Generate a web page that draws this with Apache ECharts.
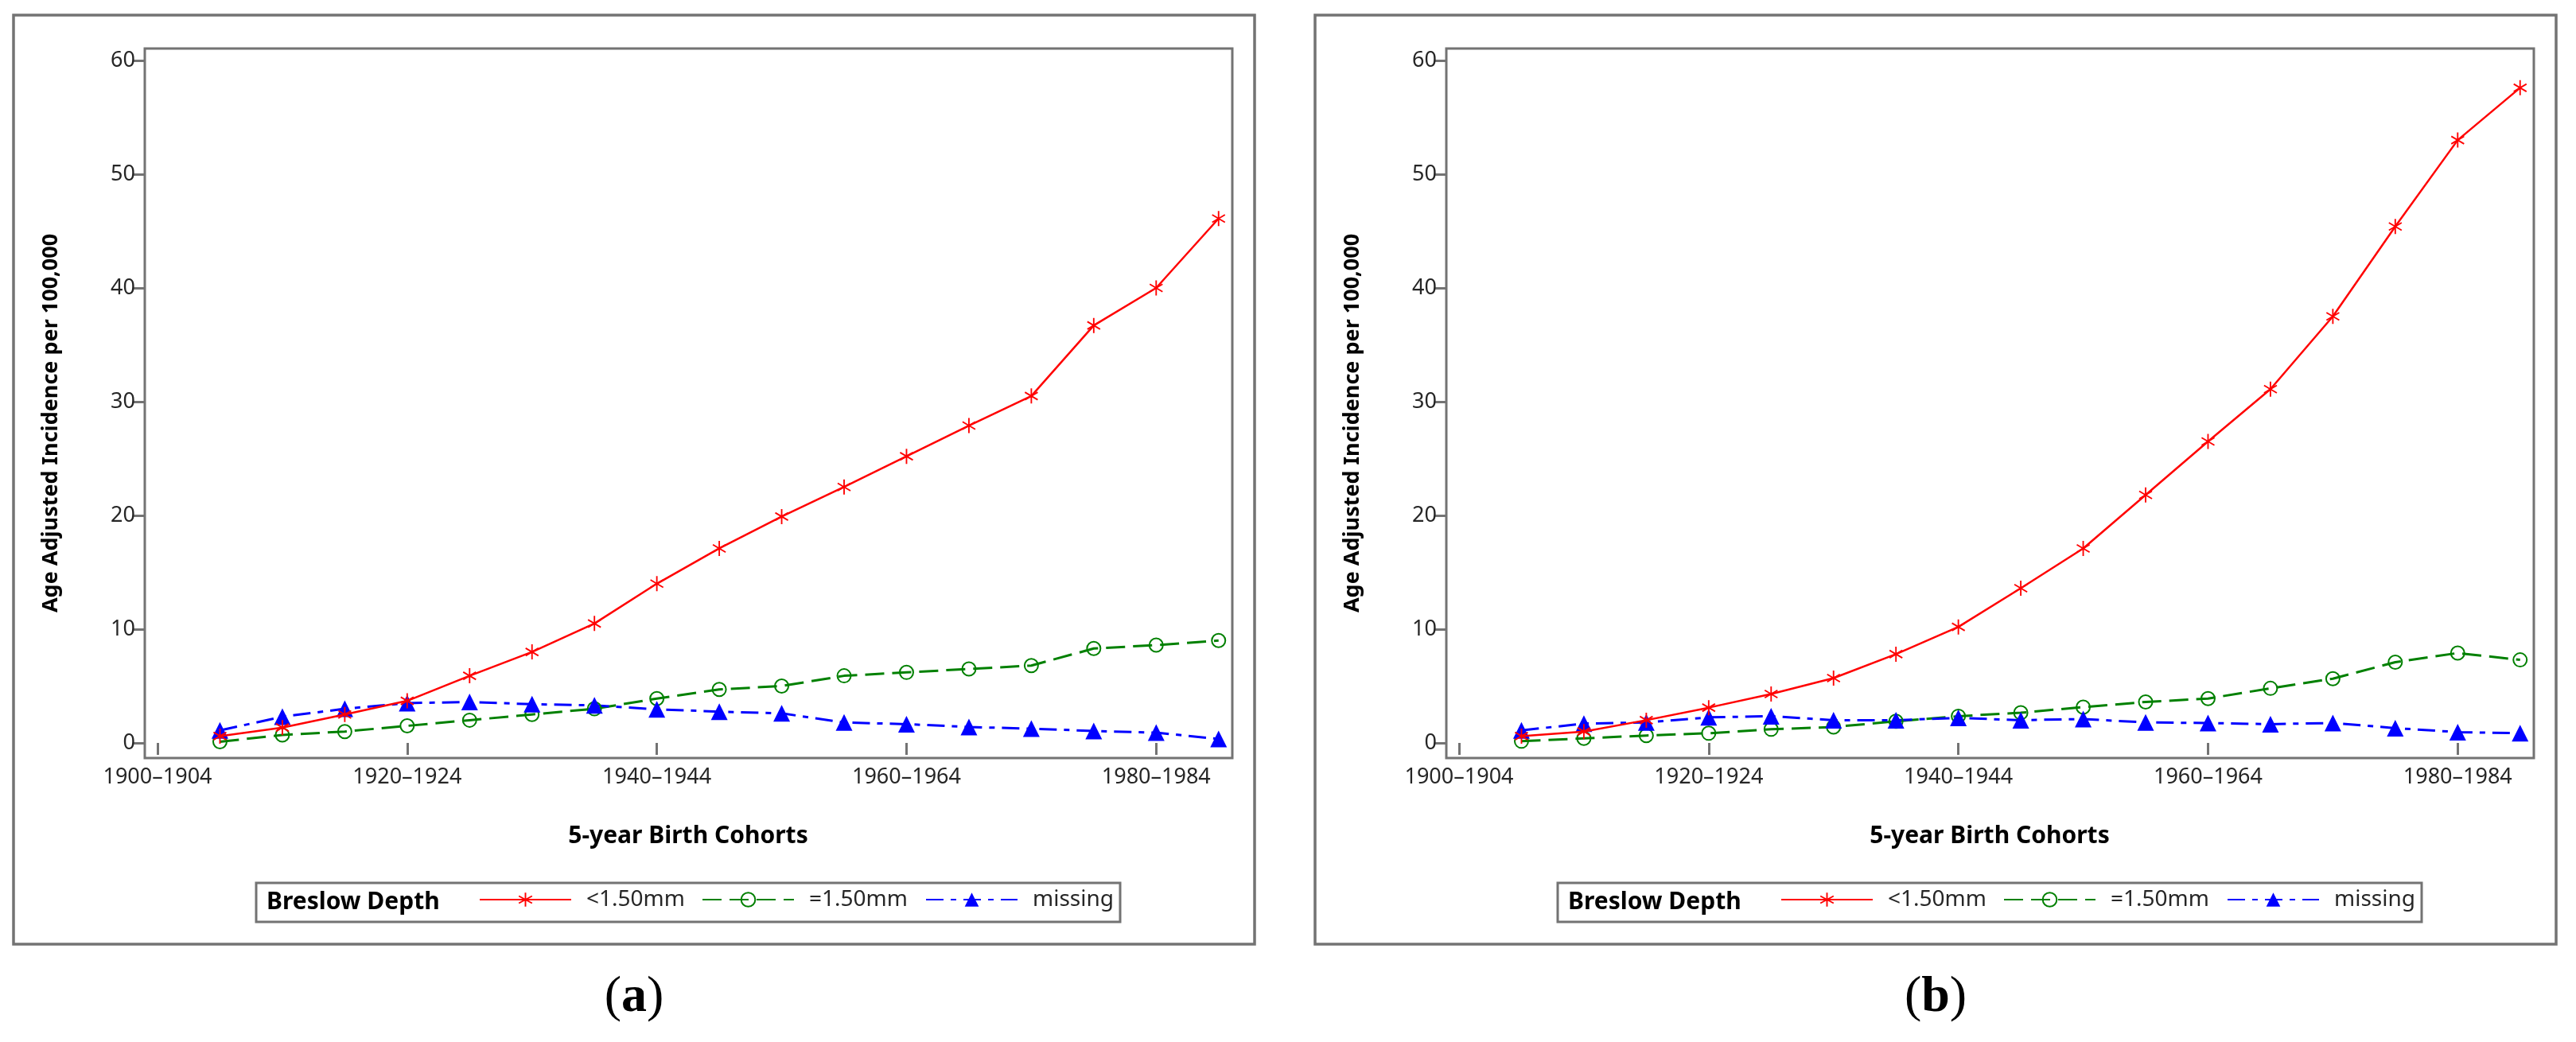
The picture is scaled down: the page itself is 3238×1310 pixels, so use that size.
<!DOCTYPE html>
<html>
<head>
<meta charset="utf-8">
<script src="https://cdn.jsdelivr.net/npm/echarts@6/dist/echarts.min.js"></script>
<style>
html,body{margin:0;padding:0;background:#fff;}
#chart{width:3238px;height:1310px;}
</style>
</head>
<body>
<div id="chart"></div>
<script>
// ---- data ----
const cohorts = ['1905–1909','1910–1914','1915–1919','1920–1924','1925–1929','1930–1934','1935–1939','1940–1944','1945–1949','1950–1954','1955–1959','1960–1964','1965–1969','1970–1974','1975–1979','1980–1984','1985–1989'];
const tickLabels = ['1900–1904','1920–1924','1940–1944','1960–1964','1980–1984'];
const yTicks = [0,10,20,30,40,50,60];
const seriesNames = ['<1.50mm','=1.50mm','missing'];
const panelLabels = ['a','b'];
const legendTitle = 'Breslow Depth';
const xTitle = '5-year Birth Cohorts';
const yTitle = 'Age Adjusted Incidence per 100,000';

const thinA    = [0.6,1.35,2.5,3.7,5.9,8.0,10.5,14.0,17.1,19.9,22.5,25.2,27.9,30.5,36.7,40.0,46.1];
const thickA   = [0.1,0.7,1.0,1.5,2.0,2.5,3.0,3.9,4.7,5.0,5.9,6.2,6.5,6.8,8.3,8.6,9.0];
const missingA = [1.1,2.3,3.0,3.5,3.6,3.4,3.3,2.95,2.75,2.6,1.8,1.65,1.4,1.25,1.05,0.9,0.35];

const thinB    = [0.6,1.0,2.0,3.1,4.3,5.7,7.8,10.2,13.6,17.1,21.8,26.5,31.1,37.5,45.4,53.0,57.6];
const thickB   = [0.15,0.4,0.65,0.85,1.2,1.4,1.9,2.35,2.65,3.15,3.6,3.9,4.8,5.65,7.1,7.9,7.3];
const missingB = [1.1,1.7,1.8,2.25,2.35,2.0,2.0,2.2,2.0,2.1,1.8,1.75,1.65,1.75,1.3,0.95,0.85];

const panelData = [[thinA, thickA, missingA],[thinB, thickB, missingB]];

// ---- derived ----
const cohortStart = cohorts.map(c => parseInt(c, 10));
const tickStart = tickLabels.map(t => parseInt(t, 10));

// ---- styles ----
const RED = '#ff0000', GREEN = '#008000', BLUE = '#0000ff';
const GRAY = '#737373';
const FONT = "'Noto Sans', 'Open Sans', sans-serif";
const asterisk = 'path://M-1,-10L1,-10L1,10L-1,10Z M-9.16,-4.134L-8.16,-5.866L9.16,4.134L8.16,5.866Z M8.16,-5.866L9.16,-4.134L-8.16,5.866L-9.16,4.134Z';
const legendLeft = [602, 882, 1163];

const DX = 1636;
const grids = [], xAxes = [], yAxes = [], series = [], legends = [], graphics = [];

for (let p = 0; p < 2; p++) {
  const ox = p * DX;
  grids.push({left: 182 + ox, top: 61, width: 1367, height: 892, show: true,
    borderColor: GRAY, borderWidth: 3, backgroundColor: '#fff', containLabel: false});
  xAxes.push({type: 'value', gridIndex: p, min: 1898.98, max: 1986.1,
    axisLine: {show: false}, splitLine: {show: false},
    axisTick: {show: true, length: 15, customValues: tickStart, lineStyle: {color: GRAY, width: 3}},
    axisLabel: {customValues: tickStart, margin: 11, fontSize: 27, fontFamily: FONT, color: '#262626',
      formatter: v => tickLabels[tickStart.indexOf(v)] || ''}});
  yAxes.push({type: 'value', gridIndex: p, min: -1.33, max: 61.05,
    axisLine: {show: false}, splitLine: {show: false},
    axisTick: {show: true, length: 15, customValues: yTicks, lineStyle: {color: GRAY, width: 3}},
    axisLabel: {customValues: yTicks, margin: 12, fontSize: 27, fontFamily: FONT, color: '#262626'}});

  const d = panelData[p];
  series.push({name: seriesNames[0], type: 'line', xAxisIndex: p, yAxisIndex: p,
    data: cohortStart.map((x, i) => [x, d[0][i]]),
    symbol: asterisk, symbolSize: [17, 19],
    itemStyle: {color: RED}, lineStyle: {color: RED, width: 2.5, type: 'solid'}, z: 3});
  series.push({name: seriesNames[1], type: 'line', xAxisIndex: p, yAxisIndex: p,
    data: cohortStart.map((x, i) => [x, d[1][i]]),
    symbol: 'circle', symbolSize: 17,
    itemStyle: {color: 'rgba(255,255,255,0)', borderColor: GREEN, borderWidth: 2},
    lineStyle: {color: GREEN, width: 3, type: [24, 10]}, z: 2});
  series.push({name: seriesNames[2], type: 'line', xAxisIndex: p, yAxisIndex: p,
    data: cohortStart.map((x, i) => [x, d[2][i]]),
    symbol: 'triangle', symbolSize: 21,
    itemStyle: {color: BLUE}, lineStyle: {color: BLUE, width: 3, type: [22, 9, 7, 9]}, z: 2});

  for (let k = 0; k < 3; k++) {
    legends.push({data: [seriesNames[k]], left: legendLeft[k] + ox, top: 1117, padding: 0,
      itemWidth: 115, itemHeight: 22, selectedMode: false,
      formatter: n => '\u2002' + n,
      textStyle: {fontSize: 28, fontFamily: FONT, color: '#262626'}});
  }

  // outer frame
  graphics.push({type: 'rect', shape: {x: 17 + ox, y: 19, width: 1560, height: 1168},
    style: {fill: null, stroke: GRAY, lineWidth: 3.5}, z: -1});
  // legend box
  graphics.push({type: 'rect', shape: {x: 322 + ox, y: 1110, width: 1086, height: 49},
    style: {fill: null, stroke: GRAY, lineWidth: 3}});
  graphics.push({type: 'text', x: 335 + ox, y: 1134,
    style: {text: legendTitle, font: "bold 30px 'Noto Sans', sans-serif", fill: '#000', textVerticalAlign: 'middle', textAlign: 'left'}});
  // axis titles
  graphics.push({type: 'text', x: 865 + ox, y: 1051,
    style: {text: xTitle, font: "bold 30px 'Noto Sans', sans-serif", fill: '#000', textVerticalAlign: 'middle', textAlign: 'center'}});
  graphics.push({type: 'text', x: 64 + ox, y: 532, rotation: Math.PI / 2,
    style: {text: yTitle, font: "bold 27px 'Noto Sans', sans-serif", fill: '#000', textVerticalAlign: 'middle', textAlign: 'center'}});
  // panel label
  graphics.push({type: 'text', x: 797 + ox, y: 1254,
    style: {text: '{n|(}{b|' + panelLabels[p] + '}{n|)}', textAlign: 'center', textVerticalAlign: 'middle',
      rich: {n: {font: "64px 'Liberation Serif', serif", fill: '#000'}, b: {font: "bold 64px 'Liberation Serif', serif", fill: '#000'}}}});
}

const chart = echarts.init(document.getElementById('chart'), null, {renderer: 'canvas'});
chart.setOption({
  animation: false,
  backgroundColor: '#fff',
  grid: grids, xAxis: xAxes, yAxis: yAxes, series: series, legend: legends,
  graphic: {elements: graphics}
});
</script>
</body>
</html>
